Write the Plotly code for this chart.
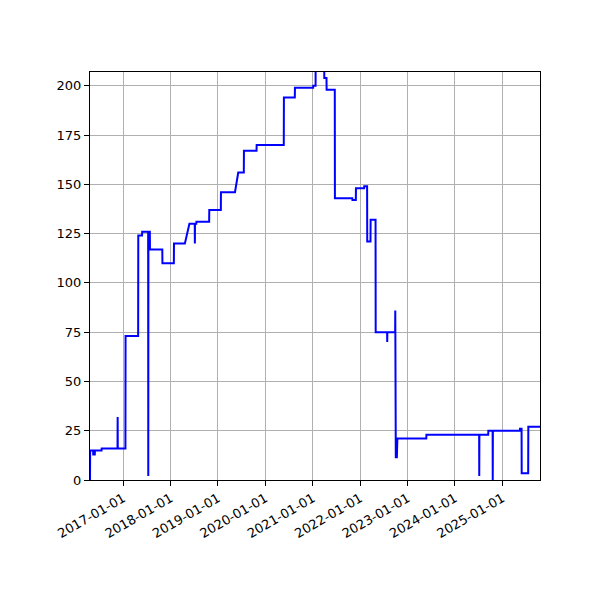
import plotly.graph_objects as go

# values
dates = [
    "2016-04-20", "2016-04-21", "2016-05-14", "2016-05-15", "2016-05-27", "2016-05-28",
    "2016-07-18", "2016-07-19", "2016-11-18", "2016-11-19", "2016-11-20",
    "2017-01-18", "2017-01-19", "2017-04-26", "2017-04-27", "2017-05-26", "2017-05-27",
    "2017-07-12", "2017-07-13", "2017-07-14", "2017-07-25", "2017-07-26",
    "2017-10-29", "2017-10-30", "2018-01-26", "2018-01-27", "2018-04-21", "2018-05-26",
    "2018-07-06", "2018-07-07", "2018-07-08", "2018-07-18", "2018-07-19",
    "2018-10-25", "2018-10-26", "2019-01-23", "2019-01-24", "2019-05-12", "2019-06-06",
    "2019-07-19", "2019-07-20", "2019-10-25", "2019-10-26", "2020-05-22", "2020-05-23",
    "2020-08-15", "2020-08-16", "2021-01-03", "2021-01-04", "2021-01-22", "2021-01-23",
    "2021-03-29", "2021-03-30", "2021-04-16", "2021-04-17", "2021-06-19", "2021-06-20",
    "2021-11-01", "2021-11-02", "2021-11-28", "2021-11-29", "2022-01-31", "2022-02-01",
    "2022-02-23", "2022-02-24", "2022-03-21", "2022-03-22", "2022-04-29", "2022-04-30",
    "2022-07-27", "2022-07-28", "2022-07-29", "2022-09-27", "2022-09-28",
    "2022-10-02", "2022-10-06", "2022-10-10", "2022-10-14",
    "2023-05-25", "2023-05-26", "2024-07-05", "2024-07-06", "2024-07-07",
    "2024-09-13", "2024-09-14", "2024-10-17", "2024-10-18", "2024-10-19",
    "2025-05-15", "2025-05-16", "2025-05-28", "2025-05-29", "2025-07-18", "2025-07-19",
    "2025-10-17",
]
values = [
    0, 15, 15, 13, 13, 15,
    15, 16, 16, 32, 16,
    16, 73, 73, 124, 124, 126,
    126, 2, 126, 126, 117,
    117, 110, 110, 120, 120, 130,
    130, 120, 130, 130, 131,
    131, 137, 137, 146, 146, 156,
    156, 167, 167, 170, 170, 194,
    194, 199, 199, 200, 200, 230,
    230, 204, 204, 198, 198, 143,
    143, 142, 142, 148, 148, 149,
    149, 121, 121, 132, 132, 75,
    75, 70, 75, 75, 86,
    11, 21, 11, 21,
    21, 23, 23, 2, 23,
    23, 25, 25, 0, 25,
    25, 26, 26, 3.4, 3.4, 27,
    27,
]
y_ticks = [0, 25, 50, 75, 100, 125, 150, 175, 200]
x_ticks = ["2017-01-01", "2018-01-01", "2019-01-01", "2020-01-01", "2021-01-01",
           "2022-01-01", "2023-01-01", "2024-01-01", "2025-01-01"]

fig = go.Figure()
fig.add_trace(go.Scatter(x=dates, y=values, mode="lines",
                         line=dict(color="#0000ff", width=2)))

axis_style = dict(showline=True, linecolor="black", linewidth=1, mirror=True,
                  showgrid=True, gridcolor="#b0b0b0", gridwidth=1,
                  ticks="outside", ticklen=5, tickcolor="black", zeroline=False)

fig.update_xaxes(type="date", range=["2016-04-20", "2025-10-17"],
                 tickvals=x_ticks, ticktext=x_ticks, tickangle=-30, **axis_style)
fig.update_yaxes(range=[0, 207], tickvals=y_ticks, **axis_style)

# page body adds ~8px offset, margins compensate for it
fig.update_layout(
    width=600, height=600,
    margin=dict(l=82, r=68, t=64, b=128),
    paper_bgcolor="white", plot_bgcolor="white",
    font=dict(family="DejaVu Sans", size=13, color="black"),
    showlegend=False,
)

fig.write_html("out.html")
